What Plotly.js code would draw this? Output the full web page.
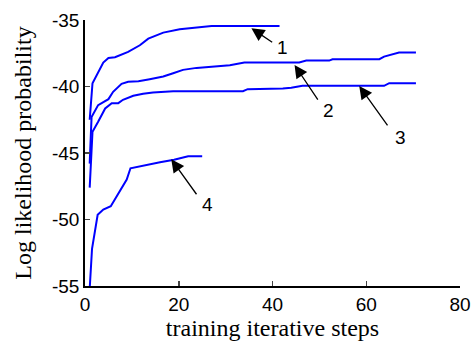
<!DOCTYPE html>
<html>
<head>
<meta charset="utf-8">
<script src="https://cdn.plot.ly/plotly-3.0.1.min.js"></script>
<style>html,body{margin:0;padding:0;background:#fff;}</style>
</head>
<body>
<div id="chart" style="width:474px;height:344px;"></div>
<script>
const x1 = [1, 1.6, 3.9, 5, 6.4, 9.2, 11.7, 13.5, 16.7, 20.2, 27, 41.5];
const y1 = [-42.5, -39.75, -38.2, -37.85, -37.8, -37.4, -36.9, -36.4, -35.95, -35.7, -35.45, -35.45];

const x2 = [1, 1.4, 2.8, 5, 6, 7.8, 9.2, 11.4, 13.8, 16.7, 18.8, 20.9, 23.8, 26.6, 30.9, 34, 45.7, 47.2, 52.1, 52.8, 62.8, 63.8, 67, 70.6];
const y2 = [-45.8, -42.3, -41.4, -40.95, -40.4, -39.8, -39.65, -39.6, -39.45, -39.25, -39.0, -38.75, -38.6, -38.5, -38.4, -38.2, -38.2, -38.05, -38.05, -37.95, -37.95, -37.75, -37.45, -37.45];

const x3 = [1, 1.6, 2.8, 4.3, 5.7, 7.1, 8.1, 10.3, 12.4, 14.5, 18.8, 33.7, 34.7, 40.8, 42.2, 44, 46.4, 63.8, 64.9, 70.6];
const y3 = [-47.6, -43.4, -42.65, -41.65, -41.25, -41.25, -41.0, -40.7, -40.55, -40.45, -40.35, -40.35, -40.2, -40.2, -40.15, -40.1, -39.95, -39.95, -39.75, -39.75];

const x4 = [1, 1.5, 2.7, 3.9, 5.5, 6.7, 8.9, 9.7, 11, 13, 16, 19, 22, 25];
const y4 = [-55.2, -52.2, -49.65, -49.25, -49.0, -48.3, -47.0, -46.15, -46.05, -45.9, -45.7, -45.5, -45.25, -45.25];

const xTicks = [0, 20, 40, 60, 80];
const xTickText = ['0', '20', '40', '60', '80'];
const yTicks = [-55, -50, -45, -40, -35];
const yTickText = ['-55', '-50', '-45', '-40', '-35'];

const labels = ['1', '2', '3', '4'];
const arrowTipX = [35.5, 44.7, 58.5, 18.4];
const arrowTipY = [-35.62, -38.38, -39.96, -45.47];
const labelX = [42.1, 51.9, 67.2, 26.2];
const labelY = [-37.03, -41.77, -43.8, -48.9];

const lineStyle = {color: '#0000ff', width: 2};
const data = [[x1,y1],[x2,y2],[x3,y3],[x4,y4]].map(([x,y]) => ({
  x: x, y: y, type: 'scatter', mode: 'lines', line: lineStyle, showlegend: false, hoverinfo: 'skip'
}));

const annotations = [];
const xa = v => (v/80)*375;
const ya = v => (v+35)/20*266;
for (let i = 0; i < labels.length; i++) {
  const dx = xa(labelX[i]) - xa(arrowTipX[i]);
  const dy = -(ya(labelY[i]) - ya(arrowTipY[i]));
  annotations.push({
    x: arrowTipX[i], y: arrowTipY[i], xref: 'x', yref: 'y',
    ax: dx * 0.72, ay: dy * 0.8, text: '', showarrow: true,
    arrowhead: 2, arrowsize: 2, arrowwidth: 1.3, arrowcolor: '#000'
  });
  annotations.push({
    x: labelX[i], y: labelY[i], xref: 'x', yref: 'y', text: labels[i], showarrow: false,
    font: {family: 'Liberation Sans, Arial, sans-serif', size: 19, color: '#000'}
  });
}

const layout = {
  width: 474, height: 344,
  margin: {l: 85, r: 14, t: 20, b: 58},
  paper_bgcolor: '#fff', plot_bgcolor: '#fff',
  font: {family: 'Liberation Sans, Arial, sans-serif', size: 19, color: '#000'},
  xaxis: {
    range: [0, 80], tickvals: xTicks, ticktext: xTickText, ticks: 'inside', ticklen: 5, tickwidth: 1.5,
    showline: true, linecolor: '#000', linewidth: 1.8, showgrid: false, zeroline: false,
    tickfont: {size: 19}, mirror: false,
    title: {text: 'training iterative steps', font: {family: 'Liberation Serif, Times New Roman, serif', size: 24}, standoff: 2}
  },
  yaxis: {
    range: [-55, -35], tickvals: yTicks, ticktext: yTickText, ticks: 'inside', ticklen: 5, tickwidth: 1.5,
    showline: true, linecolor: '#000', linewidth: 1.8, showgrid: false, zeroline: false,
    tickfont: {size: 19},
    title: {text: 'Log likelihood probability', font: {family: 'Liberation Serif, Times New Roman, serif', size: 24}, standoff: 13}
  },
  annotations: annotations
};

Plotly.newPlot('chart', data, layout, {staticPlot: true, displayModeBar: false});
</script>
</body>
</html>
